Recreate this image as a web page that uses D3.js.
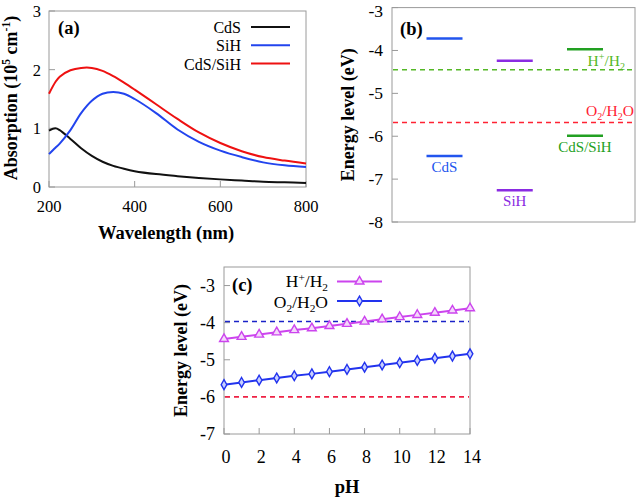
<!DOCTYPE html>
<html><head><meta charset="utf-8">
<script src="https://cdn.jsdelivr.net/npm/d3@7"></script>
<style>body{margin:0;background:#fff}svg{display:block}</style>
</head><body><svg id="c" width="640" height="499"></svg>
<script>
// ---- Panel (a) data ----
const wavelengths = [200,215,225,250,275,300,325,350,375,400,450,500,550,600,650,700,750,800];
const absCdS   = [0.96,1.00,0.97,0.82,0.66,0.53,0.43,0.36,0.31,0.27,0.22,0.185,0.155,0.13,0.11,0.09,0.08,0.07];
const absSiH   = [0.56,0.67,0.74,0.97,1.26,1.47,1.59,1.62,1.59,1.50,1.26,0.98,0.77,0.62,0.51,0.42,0.37,0.34];
const absMix   = [1.59,1.79,1.88,1.99,2.03,2.03,1.98,1.89,1.78,1.66,1.41,1.16,0.93,0.75,0.61,0.51,0.45,0.40];
const seriesA  = ["CdS","SiH","CdS/SiH"];
const xTicksA = [200,400,600,800];
const yTicksA = [0,1,2,3];
// ---- Panel (b) data ----
const materials = ["CdS","SiH","CdS/SiH"];
const upperLevel = [-3.72,-4.24,-3.97];
const lowerLevel = [-6.46,-7.26,-5.99];
const refH = -4.45, refO = -5.68;
const yTicksB = [-8,-7,-6,-5,-4,-3];
// ---- Panel (c) data ----
const pH = [0,1,2,3,4,5,6,7,8,9,10,11,12,13,14];
const hPlus = [-4.44,-4.38,-4.32,-4.26,-4.20,-4.15,-4.09,-4.03,-3.97,-3.91,-3.85,-3.79,-3.73,-3.67,-3.61];
const oxy   = [-5.67,-5.61,-5.55,-5.49,-5.43,-5.38,-5.32,-5.26,-5.20,-5.14,-5.08,-5.02,-4.96,-4.90,-4.84];
const refCBlue = -3.97, refCRed = -6.0;
const xTicksC = [0,2,4,6,8,10,12,14];
const yTicksC = [-7,-6,-5,-4,-3];

const svg = d3.select("#c");
const frameCol = "#9a9a9a";

function frame(g, x0, y0, x1, y1){
  g.append("rect").attr("x",x0).attr("y",y0).attr("width",x1-x0).attr("height",y1-y0)
   .attr("fill","none").attr("stroke",frameCol).attr("stroke-width",1);
}
function chem(t, parts, size){
  parts.forEach(p=>{
    const s = t.append("tspan").text(p[0]);
    if(p[1]==="sup"){ s.attr("font-size",size*0.65).attr("dy",-size*0.36); }
    else if(p[1]==="sub"){ s.attr("font-size",size*0.65).attr("dy",size*0.25); }
    else if(p[1]==="nsup"){ s.attr("dy",size*0.36); }
    else if(p[1]==="nsub"){ s.attr("dy",-size*0.25); }
  });
}

// ================= Panel (a) =================
{
  const L=49,R=306,T=11,B=187;
  const x = d3.scaleLinear().domain([200,800]).range([L,R]);
  const y = d3.scaleLinear().domain([0,3]).range([B,T]);
  const g = svg.append("g");
  frame(g,L,T,R,B);
  g.selectAll(".xt").data(xTicksA).join("line").attr("x1",d=>x(d)).attr("x2",d=>x(d))
    .attr("y1",B).attr("y2",B-6).attr("stroke",frameCol);
  g.selectAll(".yt").data(yTicksA).join("line").attr("x1",L).attr("x2",L+6)
    .attr("y1",d=>y(d)).attr("y2",d=>y(d)).attr("stroke",frameCol);
  g.selectAll(".xl").data(xTicksA).join("text").attr("x",d=>x(d)).attr("y",B+25)
    .attr("text-anchor","middle").attr("font-size",16.5).text(d=>d);
  g.selectAll(".yl").data(yTicksA).join("text").attr("x",L-8).attr("y",d=>Math.max(y(d)+6,16))
    .attr("text-anchor","end").attr("font-size",16.5).text(d=>d);
  const data = [absCdS, absSiH, absMix];
  const cols = ["#111111","#2244ee","#ee1111"];
  const line = d3.line().x((d,i)=>x(wavelengths[i])).y(d=>y(d)).curve(d3.curveCatmullRom.alpha(0.5));
  data.forEach((arr,k)=>{
    g.append("path").attr("d",line(arr)).attr("fill","none").attr("stroke",cols[k]).attr("stroke-width",2);
  });
  seriesA.forEach((s,k)=>{
    const yy = 27 + k*18.3;
    g.append("text").attr("x",241).attr("y",yy+6).attr("text-anchor","end").attr("font-size",16).text(s);
    g.append("line").attr("x1",251).attr("x2",290).attr("y1",yy).attr("y2",yy).attr("stroke",cols[k]).attr("stroke-width",2);
  });
  g.append("text").attr("x",58).attr("y",34).attr("font-size",18.5).attr("font-weight","bold").text("(a)");
  const yt = g.append("text").attr("transform","translate(17,98) rotate(-90)").attr("text-anchor","middle")
    .attr("font-size",18).attr("font-weight","bold");
  yt.append("tspan").text("Absorption (10");
  yt.append("tspan").text("5").attr("font-size",11.5).attr("dy",-7);
  yt.append("tspan").text(" cm").attr("dy",7);
  yt.append("tspan").text("-1").attr("font-size",11.5).attr("dy",-7);
  yt.append("tspan").text(")").attr("dy",7);
  g.append("text").attr("x",166).attr("y",239).attr("text-anchor","middle").attr("font-size",18.5)
    .attr("font-weight","bold").text("Wavelength (nm)");
}

// ================= Panel (b) =================
{
  const L=392,R=635,T=7.6,B=222;
  const y = d3.scaleLinear().domain([-8,-3]).range([B,T]);
  const x = d3.scalePoint().domain(materials).range([444.5,585]);
  const hw = 18;
  const g = svg.append("g");
  frame(g,L,T,R,B);
  g.selectAll(".yt").data(yTicksB).join("line").attr("x1",L).attr("x2",L+6)
    .attr("y1",d=>y(d)).attr("y2",d=>y(d)).attr("stroke",frameCol);
  g.selectAll(".yl").data(yTicksB).join("text").attr("x",L-9).attr("y",d=>Math.max(y(d)+6,16.5))
    .attr("text-anchor","end").attr("font-size",17.5).text(d=>d);
  g.append("line").attr("x1",L+1).attr("x2",R-1).attr("y1",y(refH)).attr("y2",y(refH))
    .attr("stroke","#55b827").attr("stroke-width",1.6).attr("stroke-dasharray","5,4");
  g.append("line").attr("x1",L+1).attr("x2",R-1).attr("y1",y(refO)).attr("y2",y(refO))
    .attr("stroke","#ff2233").attr("stroke-width",1.6).attr("stroke-dasharray","5,4");
  const cols = ["#2255ee","#8a2be2","#22a022"];
  materials.forEach((m,i)=>{
    [upperLevel[i],lowerLevel[i]].forEach(v=>{
      g.append("line").attr("x1",x(m)-hw).attr("x2",x(m)+hw).attr("y1",y(v)).attr("y2",y(v))
        .attr("stroke",cols[i]).attr("stroke-width",2.6);
    });
  });
  g.append("text").attr("x",x("CdS")).attr("y",y(lowerLevel[0])+16).attr("text-anchor","middle")
    .attr("font-size",15).attr("fill","#2255ee").text("CdS");
  g.append("text").attr("x",x("SiH")).attr("y",y(lowerLevel[1])+16).attr("text-anchor","middle")
    .attr("font-size",15).attr("fill","#8a2be2").text("SiH");
  g.append("text").attr("x",x("CdS/SiH")).attr("y",y(lowerLevel[2])+16).attr("text-anchor","middle")
    .attr("font-size",15).attr("fill","#22a022").text("CdS/SiH");
  const th = g.append("text").attr("x",625).attr("y",66).attr("text-anchor","end").attr("font-size",15.5).attr("fill","#55b827");
  chem(th,[["H","n"],["+","sup"],["/H","nsup"],["2","sub"]],15.5);
  const to = g.append("text").attr("x",634).attr("y",116).attr("text-anchor","end").attr("font-size",15.5).attr("fill","#ff2233");
  chem(to,[["O","n"],["2","sub"],["/H","nsub"],["2","sub"],["O","nsub"]],15.5);
  g.append("text").attr("x",400).attr("y",35).attr("font-size",18.5).attr("font-weight","bold").text("(b)");
  g.append("text").attr("transform",`translate(354,${(T+B)/2}) rotate(-90)`).attr("text-anchor","middle")
    .attr("font-size",18).attr("font-weight","bold").text("Energy level (eV)");
}

// ================= Panel (c) =================
{
  const L=224,R=470,T=267,B=434;
  const x = d3.scaleLinear().domain([0,14]).range([L,R]);
  const y = d3.scaleLinear().domain([-7,-2.5]).range([B,T]);
  const g = svg.append("g");
  frame(g,L,T,R,B);
  g.selectAll(".xt").data(xTicksC).join("line").attr("x1",d=>x(d)).attr("x2",d=>x(d))
    .attr("y1",B).attr("y2",B-6).attr("stroke",frameCol);
  g.selectAll(".yt").data(yTicksC).join("line").attr("x1",L).attr("x2",L+6)
    .attr("y1",d=>y(d)).attr("y2",d=>y(d)).attr("stroke",frameCol);
  g.selectAll(".xl").data(xTicksC).join("text").attr("x",d=>x(d)+2).attr("y",B+29)
    .attr("text-anchor","middle").attr("font-size",18).text(d=>d);
  g.selectAll(".yl").data(yTicksC).join("text").attr("x",L-9).attr("y",d=>y(d)+6)
    .attr("text-anchor","end").attr("font-size",18).text(d=>d);
  g.append("line").attr("x1",L+1).attr("x2",R-1).attr("y1",y(refCBlue)).attr("y2",y(refCBlue))
    .attr("stroke","#1a22c8").attr("stroke-width",1.6).attr("stroke-dasharray","5,4");
  g.append("line").attr("x1",L+1).attr("x2",R-1).attr("y1",y(refCRed)).attr("y2",y(refCRed))
    .attr("stroke","#ee2244").attr("stroke-width",1.6).attr("stroke-dasharray","5,4");
  const mag = "#cc44ee", blu = "#2233ee";
  const line = d3.line().x((d,i)=>x(pH[i])).y(d=>y(d));
  g.append("path").attr("d",line(hPlus)).attr("fill","none").attr("stroke",mag).attr("stroke-width",2);
  g.append("path").attr("d",line(oxy)).attr("fill","none").attr("stroke",blu).attr("stroke-width",2);
  const tri = d3.symbol().type(d3.symbolTriangle).size(34);
  const dia = d3.symbol().type(d3.symbolDiamond).size(28);
  g.selectAll(".tri").data(hPlus).join("path").attr("d",tri)
    .attr("transform",(d,i)=>`translate(${x(pH[i])},${y(d)})`).attr("fill","#f4d8fa").attr("stroke",mag).attr("stroke-width",1.4);
  g.selectAll(".dia").data(oxy).join("path").attr("d",dia)
    .attr("transform",(d,i)=>`translate(${x(pH[i])},${y(d)})`).attr("fill","#c8d0ff").attr("stroke",blu).attr("stroke-width",1.4);
  const t1 = g.append("text").attr("x",328).attr("y",287).attr("text-anchor","end").attr("font-size",17.5);
  chem(t1,[["H","n"],["+","sup"],["/H","nsup"],["2","sub"]],17.5);
  const t2 = g.append("text").attr("x",328).attr("y",308).attr("text-anchor","end").attr("font-size",17.5);
  chem(t2,[["O","n"],["2","sub"],["/H","nsub"],["2","sub"],["O","nsub"]],17.5);
  g.append("line").attr("x1",337).attr("x2",382).attr("y1",281.5).attr("y2",281.5).attr("stroke",mag).attr("stroke-width",2);
  g.append("path").attr("d",tri).attr("transform","translate(359.5,281.5)").attr("fill","#f4d8fa").attr("stroke",mag).attr("stroke-width",1.4);
  g.append("line").attr("x1",337).attr("x2",382).attr("y1",301).attr("y2",301).attr("stroke",blu).attr("stroke-width",2);
  g.append("path").attr("d",dia).attr("transform","translate(359.5,301)").attr("fill","#c8d0ff").attr("stroke",blu).attr("stroke-width",1.4);
  g.append("text").attr("x",232).attr("y",291).attr("font-size",18.5).attr("font-weight","bold").text("(c)");
  g.append("text").attr("transform",`translate(187,${(T+B)/2}) rotate(-90)`).attr("text-anchor","middle")
    .attr("font-size",18).attr("font-weight","bold").text("Energy level (eV)");
  g.append("text").attr("x",347).attr("y",493).attr("text-anchor","middle").attr("font-size",18.5)
    .attr("font-weight","bold").text("pH");
}
svg.selectAll("text").style("font-family",'"Liberation Serif"');
</script></body></html>
